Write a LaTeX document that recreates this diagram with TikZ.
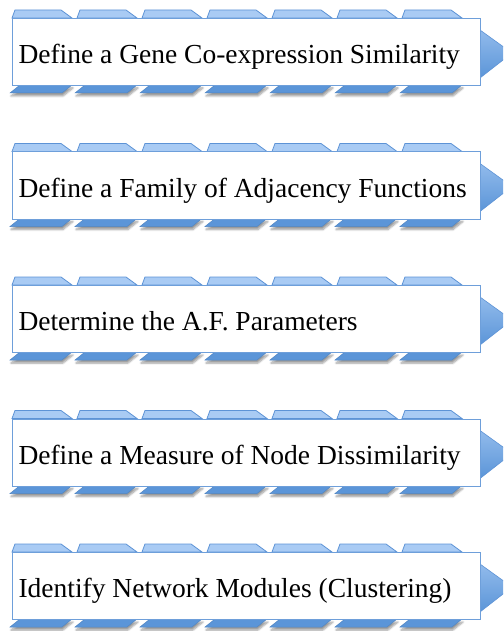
\documentclass[tikz,border=0pt]{standalone}
\usepackage{fontspec}
\setmainfont{Liberation Serif}
\newfontfamily\stepfont{Liberation Serif}
\usetikzlibrary{shadows.blur}

\definecolor{tablight}{HTML}{A9CBF4}
\definecolor{tabline}{HTML}{5D93D6}
\definecolor{tabdark}{HTML}{5B95D8}
\definecolor{boxline}{HTML}{6E9FDA}

\tikzset{
	uptab/.style={fill=tablight, draw=tabline, line width=0.8pt},
	downtab/.style={fill=tabdark, draw=tabdark!90!black, line width=0.5pt,
		blur shadow={shadow xshift=1pt, shadow yshift=-3pt, shadow blur steps=6}},
	tiptri/.style={draw=tabline, line width=0.6pt, top color=tablight!70!tabdark, bottom color=tabdark},
	stepbox/.style={rectangle, draw=boxline, fill=white, line width=1pt, anchor=north west,
		minimum width=468pt, minimum height=67pt, text width=456pt, inner xsep=6pt,
		text height=25pt, text depth=2pt,
		align=flush left, font=\stepfont\fontsize{27.5}{30}\selectfont}
}

\begin{document}
\begin{tikzpicture}[x=1pt,y=-1pt]
	\useasboundingbox (0,0) rectangle (503,631);
	\clip (0,0) rectangle (503,631);
	\foreach \name/\top/\txt in {simil/18/{Define a Gene Co-expression Similarity},
			adjfam/151.5/{Define a Family of Adjacency Functions},
			afpar/285/{Determine the A.F. Parameters},
			dissim/418.5/{Define a Measure of Node Dissimilarity},
			modules/552/{Identify Network Modules (Clustering)}} {
		% tabs above and below the box
		\foreach \k in {0,...,6} {
			\pgfmathsetmacro\xa{15+65*\k}
			\path [uptab] (\xa,\top-8) -- ++(46,0) -- ++(11,8) -- ++(-60,0) -- cycle;
			\path [downtab] (\xa+5,\top+67) -- ++(52,0) -- ++(-10,8) -- ++(-52,0) -- cycle;
		}
		% arrow head on the right
		\path [tiptri] (480,\top+12) -- (512,\top+35) -- (480,\top+60) -- cycle;
		\node (\name) at (12,\top) [stepbox] {\txt};
	}
\end{tikzpicture}
\end{document}
